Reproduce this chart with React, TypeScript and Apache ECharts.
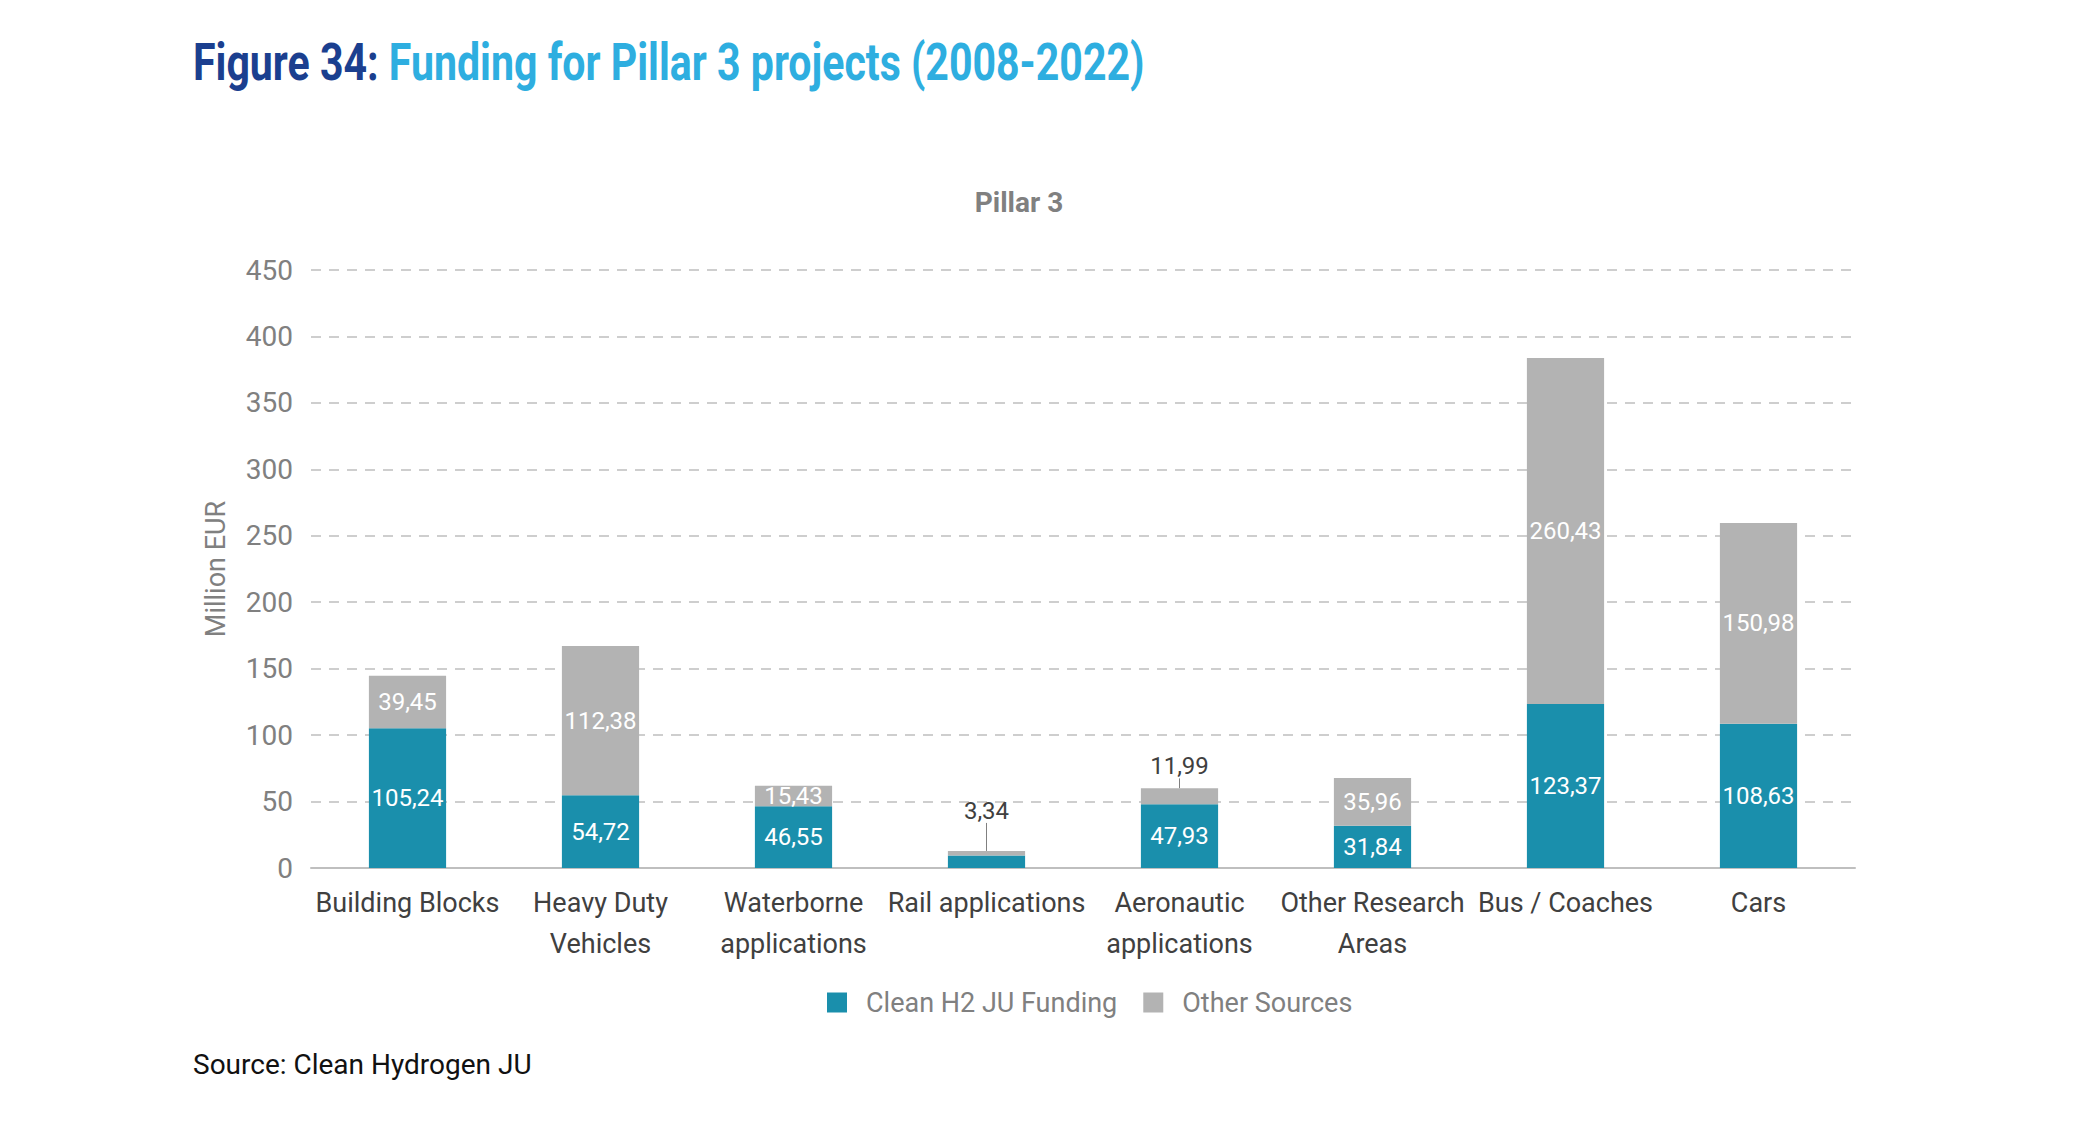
import React, { useEffect, useRef } from "react";
import * as echarts from "echarts";

const categories = [
  "Building Blocks",
  "Heavy Duty\nVehicles",
  "Waterborne\napplications",
  "Rail applications",
  "Aeronautic\napplications",
  "Other Research\nAreas",
  "Bus / Coaches",
  "Cars",
];
const cleanH2Funding = [105.24, 54.72, 46.55, 9.5, 47.93, 31.84, 123.37, 108.63];
const otherSources = [39.45, 112.38, 15.43, 3.34, 11.99, 35.96, 260.43, 150.98];
const seriesNames = ["Clean H2 JU Funding", "Other Sources"];
const yTicks = { min: 0, max: 450, interval: 50 };

const FONT = "Roboto, sans-serif";
const fmt = (v: number) => v.toFixed(2).replace(".", ",");

export default function App() {
  const ref = useRef<HTMLDivElement>(null);
  useEffect(() => {
    document.body.style.margin = "0";
    const chart = echarts.init(ref.current!, null, { renderer: "svg" });
    const outsideIdx = [3, 4];
    chart.setOption({
      animation: false,
      backgroundColor: "#ffffff",
      textStyle: { fontFamily: FONT },
      title: [
        {
          left: 1014,
          textAlign: "center",
          top: 183,
          text: "Pillar 3",
          textStyle: { fontFamily: FONT, fontWeight: "bold", fontSize: 28, color: "#808080" },
        },
      ],
      graphic: [
        {
          type: "text",
          x: 193,
          y: 36,
          scaleX: 0.79,
          style: {
            text: "{a|Figure 34:\u00a0}{b|Funding for Pillar 3 projects (2008-2022)}",
            rich: {
              a: { fontFamily: FONT, fontWeight: "bold", fontSize: 52, fill: "#1b3f8f" },
              b: { fontFamily: FONT, fontWeight: "bold", fontSize: 52, fill: "#2eaee0" },
            },
          },
        },
        {
          type: "text",
          left: 193,
          top: 1050,
          style: {
            text: "Source: Clean Hydrogen JU",
            fontFamily: FONT,
            fontSize: 28,
            fill: "#111111",
          },
        },
      ],
      legend: {
        top: 984,
        left: 822,
        itemWidth: 20,
        itemHeight: 20,
        itemGap: 26,
        icon: "rect",
        textStyle: { fontFamily: FONT, fontSize: 27, color: "#808080", padding: [0, 0, 0, 14] },
        data: seriesNames,
      },
      grid: { left: 311, right: 223, top: 270, bottom: 256 },
      xAxis: {
        type: "category",
        data: categories,
        axisTick: { show: false },
        axisLine: { lineStyle: { color: "#bfbfbf", width: 2 } },
        axisLabel: {
          fontFamily: FONT,
          fontSize: 27,
          color: "#404040",
          lineHeight: 41,
          margin: 14,
          interval: 0,
        },
      },
      yAxis: {
        type: "value",
        min: yTicks.min,
        max: yTicks.max,
        interval: yTicks.interval,
        name: "Million EUR",
        nameLocation: "middle",
        nameGap: 82,
        nameTextStyle: { fontFamily: FONT, fontSize: 27, color: "#808080" },
        axisLine: { show: false },
        axisTick: { show: false },
        axisLabel: { fontFamily: FONT, fontSize: 28, color: "#808080", margin: 18 },
        splitLine: { lineStyle: { color: "#bfbfbf", type: [10, 8], width: 1.5 } },
      },
      series: [
        {
          name: seriesNames[0],
          type: "bar",
          stack: "total",
          barWidth: "40%",
          itemStyle: { color: "#1a8fac" },
          label: {
            show: true,
            position: "inside",
            color: "#ffffff",
            fontFamily: FONT,
            fontSize: 24,
            formatter: (p: any) => (p.dataIndex === 3 ? "" : fmt(p.value)),
          },
          data: cleanH2Funding,
        },
        {
          name: seriesNames[1],
          type: "bar",
          stack: "total",
          barWidth: "40%",
          itemStyle: { color: "#b3b3b3" },
          label: {
            show: true,
            position: "inside",
            color: "#ffffff",
            fontFamily: FONT,
            fontSize: 24,
            formatter: (p: any) => fmt(p.value),
          },
          labelLayout: (params: any) =>
            params.dataIndex === 3 ? { dy: -22 } : {},
          labelLine: { show: true, lineStyle: { color: "#808080", width: 1 } },
          data: otherSources.map((v, i) =>
            outsideIdx.includes(i)
              ? {
                  value: v,
                  label: {
                    position: "top",
                    color: "#404040",
                    distance: i === 4 ? 10 : 6,
                  },
                }
              : v
          ),
        },
      ],
    });
    return () => chart.dispose();
  }, []);
  return <div ref={ref} style={{ width: 2078, height: 1124 }} />;
}
